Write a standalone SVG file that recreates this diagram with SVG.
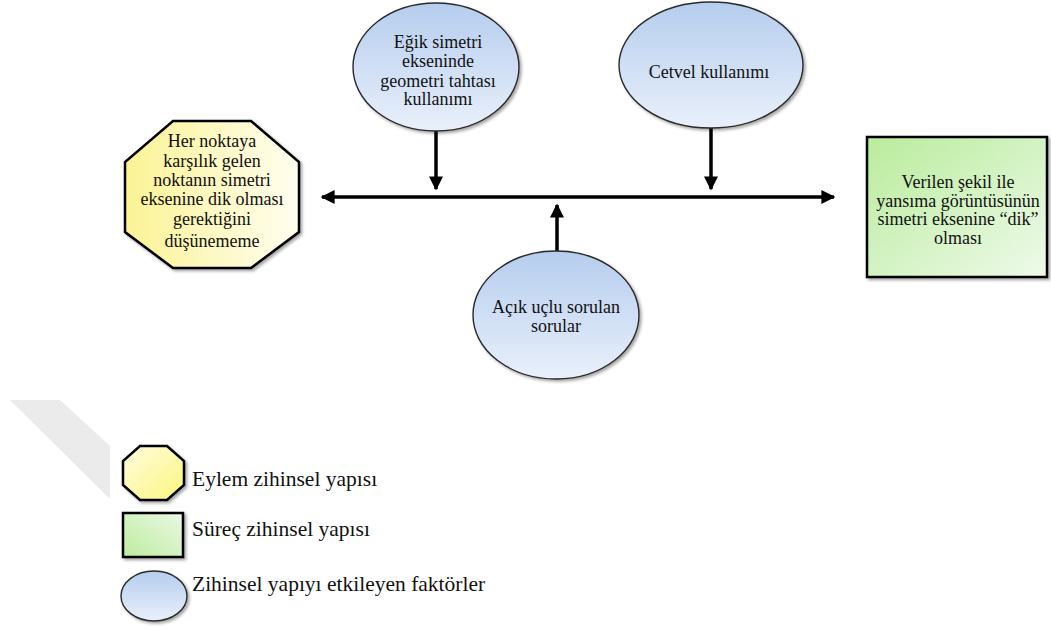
<svg xmlns="http://www.w3.org/2000/svg" width="1051" height="631" viewBox="0 0 1051 631">
  <style>
    .txt { font-family: 'Liberation Serif', 'DejaVu Serif', serif; font-size: 18px; fill: #111; text-anchor: middle; }
    .leg { font-family: 'Liberation Serif', 'DejaVu Serif', serif; font-size: 21.5px; fill: #111; }
    .oct { fill: url(#gYellow); stroke: #000; stroke-width: 2.5; filter: url(#shadow); }
    .box { fill: url(#gGreen); stroke: #000; stroke-width: 2.5; filter: url(#shadow); }
    .ell { fill: url(#gBlue); stroke: #2b2b2b; stroke-width: 1.4; filter: url(#shadow); }
    .con { stroke: #000; stroke-width: 3.5; fill: none; }
  </style>
  <defs>
    <linearGradient id="gYellow" x1="0" y1="0" x2="1" y2="0">
      <stop offset="0" stop-color="#fbf394"/>
      <stop offset="1" stop-color="#fffef0"/>
    </linearGradient>
    <linearGradient id="gYellowLeg" x1="0" y1="0" x2="1" y2="1">
      <stop offset="0" stop-color="#fffde0"/>
      <stop offset="1" stop-color="#fcf57e"/>
    </linearGradient>
    <linearGradient id="gGreen" x1="0" y1="0" x2="1" y2="1">
      <stop offset="0" stop-color="#b9ec9c"/>
      <stop offset="1" stop-color="#eefaea"/>
    </linearGradient>
    <linearGradient id="gGreenLeg" x1="0" y1="1" x2="1" y2="0">
      <stop offset="0" stop-color="#bdec9f"/>
      <stop offset="1" stop-color="#eaf8e4"/>
    </linearGradient>
    <linearGradient id="gBlue" x1="0" y1="0" x2="0" y2="1">
      <stop offset="0" stop-color="#b5cdee"/>
      <stop offset="1" stop-color="#e9f0fb"/>
    </linearGradient>
    <filter id="shadow" x="-10%" y="-10%" width="125%" height="125%">
      <feDropShadow dx="2" dy="2" stdDeviation="1.6" flood-color="#000" flood-opacity="0.35"/>
    </filter>
    <marker id="arrow" viewBox="0 0 10 10" refX="9" refY="5" markerWidth="4.2" markerHeight="4" orient="auto" markerUnits="strokeWidth">
      <path d="M0,0 L10,5 L0,10 Z" fill="#000"/>
    </marker>
  </defs>

  <rect width="1051" height="631" fill="#fff"/>

  <!-- faint diagonal band in the lower-left margin -->
  <polygon points="10,400 60,400 110,446 110,499" fill="#ebebeb"/>

  <!-- connectors -->
  <g id="connectors">
    <line class="con" x1="560" y1="197" x2="322" y2="197" marker-end="url(#arrow)"/>
    <line class="con" x1="560" y1="197" x2="834" y2="197" marker-end="url(#arrow)"/>
    <line class="con" x1="436" y1="131" x2="436" y2="189" marker-end="url(#arrow)"/>
    <line class="con" x1="711" y1="128" x2="711" y2="189" marker-end="url(#arrow)"/>
    <line class="con" x1="557" y1="251" x2="557" y2="205" marker-end="url(#arrow)"/>
  </g>

  <g id="node-action">
    <polygon class="oct" points="173,121 251,121 299,162 299,232 251,268 173,268 125,232 125,162"/>
    <text class="txt" x="212" y="147">Her noktaya</text>
    <text class="txt" x="212" y="167">karşılık gelen</text>
    <text class="txt" x="212" y="186">noktanın simetri</text>
    <text class="txt" x="212" y="205">eksenine dik olması</text>
    <text class="txt" x="212" y="225">gerektiğini</text>
    <text class="txt" x="212" y="247">düşünememe</text>
  </g>

  <g id="node-factor-board">
    <ellipse class="ell" cx="436" cy="67" rx="83" ry="64"/>
    <text class="txt" x="438" y="48">Eğik simetri</text>
    <text class="txt" x="438" y="67">ekseninde</text>
    <text class="txt" x="438" y="87">geometri tahtası</text>
    <text class="txt" x="438" y="105">kullanımı</text>
  </g>

  <g id="node-factor-ruler">
    <ellipse class="ell" cx="711" cy="65" rx="92" ry="63"/>
    <text class="txt" x="709" y="78">Cetvel kullanımı</text>
  </g>

  <g id="node-factor-questions">
    <ellipse class="ell" cx="556" cy="315" rx="83" ry="64"/>
    <text class="txt" x="556" y="313">Açık uçlu sorulan</text>
    <text class="txt" x="556" y="332">sorular</text>
  </g>

  <g id="node-process">
    <rect class="box" x="867" y="137" width="180" height="140"/>
    <text class="txt" x="958" y="188">Verilen şekil ile</text>
    <text class="txt" x="958" y="207">yansıma görüntüsünün</text>
    <text class="txt" x="958" y="225">simetri eksenine “dik”</text>
    <text class="txt" x="958" y="244">olması</text>
  </g>

  <g id="legend">
    <g id="legend-action">
      <polygon points="140,446 167,446 184,461 184,485 167,500 140,500 123,485 123,461" fill="url(#gYellowLeg)" stroke="#000" stroke-width="2.5" filter="url(#shadow)"/>
      <text class="leg" x="192" y="486">Eylem zihinsel yapısı</text>
    </g>
    <g id="legend-process">
      <rect x="123" y="513" width="60" height="44" fill="url(#gGreenLeg)" stroke="#000" stroke-width="2.5" filter="url(#shadow)"/>
      <text class="leg" x="192" y="536">Süreç zihinsel yapısı</text>
    </g>
    <g id="legend-factor">
      <ellipse class="ell" cx="154" cy="596" rx="33" ry="25"/>
      <text class="leg" x="192" y="591">Zihinsel yapıyı etkileyen faktörler</text>
    </g>
  </g>
</svg>
